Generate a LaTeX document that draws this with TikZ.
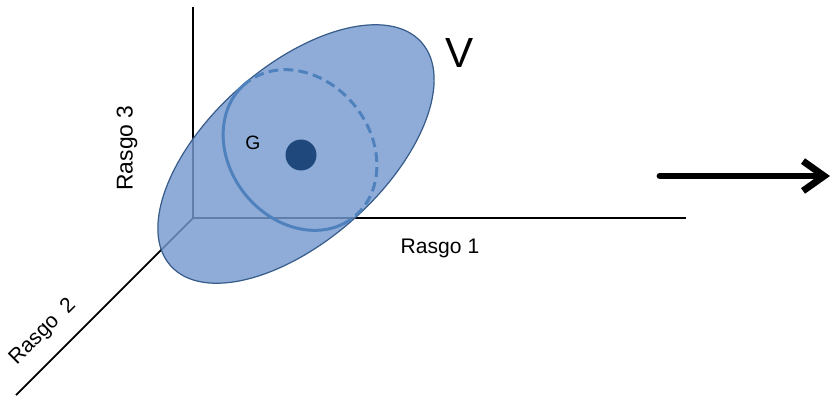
\documentclass[tikz,border=0pt]{standalone}
\usepackage{fontspec}
\setmainfont{Liberation Sans}
\usepackage{xcolor}
\definecolor{shellfill}{RGB}{118,154,208}
\definecolor{shelldraw}{RGB}{56,93,138}
\definecolor{ringblue}{RGB}{79,129,189}
\definecolor{dotblue}{RGB}{31,73,125}
\usetikzlibrary{arrows.meta, positioning}

\begin{document}
\begin{tikzpicture}[
    x=0.02cm, y=-0.02cm,
    every node/.style={align=center, font=\fontsize{12}{14}\selectfont},
    axis/.style={draw=black, line width=1pt},
    shell/.style={fill=shellfill, fill opacity=0.82, draw=shelldraw, draw opacity=1, line width=0.7pt},
    ring/.style={draw=ringblue, line width=1.7pt},
    dot/.style={circle, fill=dotblue, minimum size=0.62cm, inner sep=0pt},
    bigarrow/.style={-{Straight Barb[length=12pt, width=17pt]}, line width=3.9pt, line cap=round}
]
\useasboundingbox (0,0) rectangle (834,396);
% axes
\coordinate (o) at (193,218);
\coordinate (x1) at (686,218);
\coordinate (x2) at (16,395);
\coordinate (x3) at (193,7);
\draw[axis, line width=1.3pt] (o) -- (x1);
\draw[axis] (o) -- (x2);
\draw[axis] (o) -- (x3);
% cloud of points V
\draw[shell, shift={(296,154)}, rotate=41.7] (0,0) ellipse [x radius=3.36cm, y radius=1.74cm];
\draw[ring, shift={(300,150)}, rotate=38.5] (88:1.41cm and 1.72cm) arc[start angle=88, end angle=260, x radius=1.41cm, y radius=1.72cm];
\draw[ring, dashed, dash pattern=on 5.5pt off 3pt, shift={(300,150)}, rotate=38.5] (260:1.41cm and 1.72cm) arc[start angle=260, end angle=448, x radius=1.41cm, y radius=1.72cm];
\node[dot] (cg) at (301,155) {};
\node[font=\fontsize{11}{13}\selectfont] (g) at (253,143) {G};
\node[font=\fontsize{24}{28}\selectfont] (v) at (460,53) {V};
% labels
\node (r1) at (440,248) {Rasgo 1};
\node[rotate=45] (r2) at (43,332) {Rasgo\ \ 2};
\node[rotate=90, font=\fontsize{13}{15}\selectfont] (r3) at (127,148) {Rasgo 3};
% arrow
\coordinate (a1) at (660,176);
\coordinate (a2) at (830,176);
\draw[bigarrow] (a1) -- (a2);
\end{tikzpicture}
\end{document}
